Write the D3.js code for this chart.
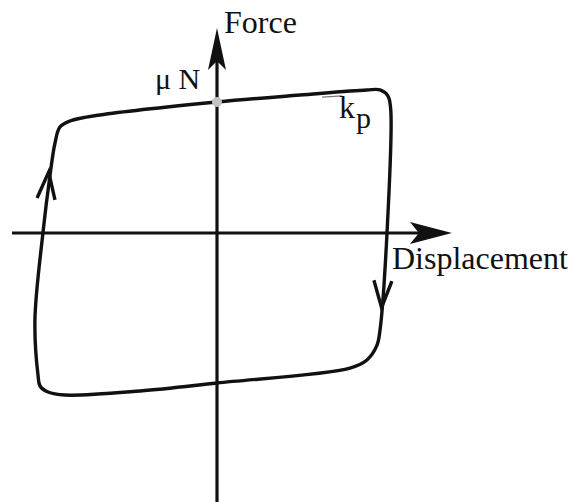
<!DOCTYPE html>
<html>
<head>
<meta charset="utf-8">
<script src="https://cdn.jsdelivr.net/npm/d3@7"></script>
<style>
  html, body { margin: 0; padding: 0; background: #fff; }
  svg { display: block; }
</style>
</head>
<body>
<svg id="chart" width="573" height="502"></svg>
<script>
// Friction hysteresis loop (displacement, force), traversed clockwise.
// Force is normalised by the friction force muN.
const loopDisp = [-0.953, -0.924, -0.865, -0.688, 0.000, 0.488, 0.882, 0.959, 1.006, 1.022, 1.000, 0.959, 0.940, 0.882, 0.782, 0.000, -0.453, -0.894, -0.994, -1.041, -1.053, -1.071, -1.024, -0.982];
const loopForce = [0.687, 0.809, 0.855, 0.901, 1.000, 1.053, 1.092, 1.092, 1.045, 0.939, 0.000, -0.740, -0.860, -0.969, -1.031, -1.145, -1.206, -1.237, -1.214, -1.168, -1.084, -0.664, 0.000, 0.443];

// Direction arrows on the loop: position and direction of travel
const arrowDisp = [-0.990, 0.968];
const arrowForce = [0.465, -0.570];
const arrowDir = [1, -1];

// Axis extents and the point where the loop meets the force axis
const dispExtent = [-1.206, 1.382];
const forceExtent = [-2.053, 1.565];
const muN = 1.0;
// Short tangent with the loop's top slope (kp)
const kpDisp = [0.618, 0.735];
const kpForce = [1.060, 1.070];

const labels = { force: "Force", disp: "Displacement", mu: "\u03BC N", k: "k", p: "p" };
const serif = "'Liberation Serif', 'Times New Roman', Times, serif";

const svg = d3.select("#chart");
const x = d3.scaleLinear().domain([-1, 1]).range([47, 387]);
const y = d3.scaleLinear().domain([-1, 1]).range([364, 102]);

// Axes
const axisW = 3.2;
svg.append("line")
  .attr("x1", x(dispExtent[0])).attr("x2", x(dispExtent[1]) - 30)
  .attr("y1", y(0)).attr("y2", y(0))
  .attr("stroke", "#111").attr("stroke-width", axisW);
svg.append("line")
  .attr("x1", x(0)).attr("x2", x(0))
  .attr("y1", y(forceExtent[0])).attr("y2", y(forceExtent[1]) + 30)
  .attr("stroke", "#111").attr("stroke-width", axisW);

// Arrow heads at the axis ends
function head(tx, ty, ux, uy, len, half, notch) {
  const px = -uy, py = ux;
  const bx = tx - ux * len, by = ty - uy * len;
  return `M${tx},${ty} L${bx + px * half},${by + py * half} L${tx - ux * (len - notch)},${ty - uy * (len - notch)} L${bx - px * half},${by - py * half} Z`;
}
svg.append("path")
  .attr("d", head(x(dispExtent[1]), y(0), 1, 0, 42, 11, 9))
  .attr("fill", "#111");
svg.append("path")
  .attr("d", head(x(0), y(forceExtent[1]), 0, -1, 42, 9, 9))
  .attr("fill", "#111");

// kp tangent, drawn under the loop so it reads as a thin double line
svg.append("line")
  .attr("x1", x(kpDisp[0])).attr("x2", x(kpDisp[1]))
  .attr("y1", y(kpForce[0]) + 3).attr("y2", y(kpForce[1]) + 3)
  .attr("stroke", "#777").attr("stroke-width", 1.4);

// Hysteresis loop
const pts = loopDisp.map((d, i) => [x(d), y(loopForce[i])]);
const line = d3.line().curve(d3.curveCatmullRomClosed.alpha(0.5));
svg.append("path")
  .attr("d", line(pts))
  .attr("fill", "none")
  .attr("stroke", "#111")
  .attr("stroke-width", 3.4)
  .attr("stroke-linejoin", "round");

// Travel direction chevrons
arrowDisp.forEach((d, i) => {
  const tx = x(d), ty = y(arrowForce[i]);
  const dir = arrowDir[i];
  const len = 27, half = 9;
  const slope = dir > 0 ? 0.1 : 0.05;
  let ux = dir > 0 ? slope : -slope, uy = dir > 0 ? -1 : 1;
  const n = Math.hypot(ux, uy); ux /= n; uy /= n;
  const bx = tx - ux * len, by = ty - uy * len;
  const px = -uy, py = ux;
  svg.append("path")
    .attr("d", `M${bx + px * half},${by + py * half} L${tx},${ty} L${bx - px * half},${by - py * half}`)
    .attr("fill", "none").attr("stroke", "#111").attr("stroke-width", 3.4)
    .attr("stroke-linejoin", "miter");
});

// Stick point on the force axis (muN)
svg.append("circle")
  .attr("cx", x(0)).attr("cy", y(muN)).attr("r", 5)
  .attr("fill", "#c4c4c4");

// Labels
function label(tx, ty, size) {
  return svg.append("text").attr("x", tx).attr("y", ty)
    .attr("font-family", serif).attr("font-size", size).attr("fill", "#111");
}
label(224, 33, 32).text(labels.force);
label(392, 269, 32).text(labels.disp);
label(155, 89, 30).text(labels.mu);
const kp = label(339, 118, 32);
kp.append("tspan").text(labels.k);
kp.append("tspan").attr("dy", 10).attr("dx", 1).attr("font-size", 30).text(labels.p);
</script>
</body>
</html>
